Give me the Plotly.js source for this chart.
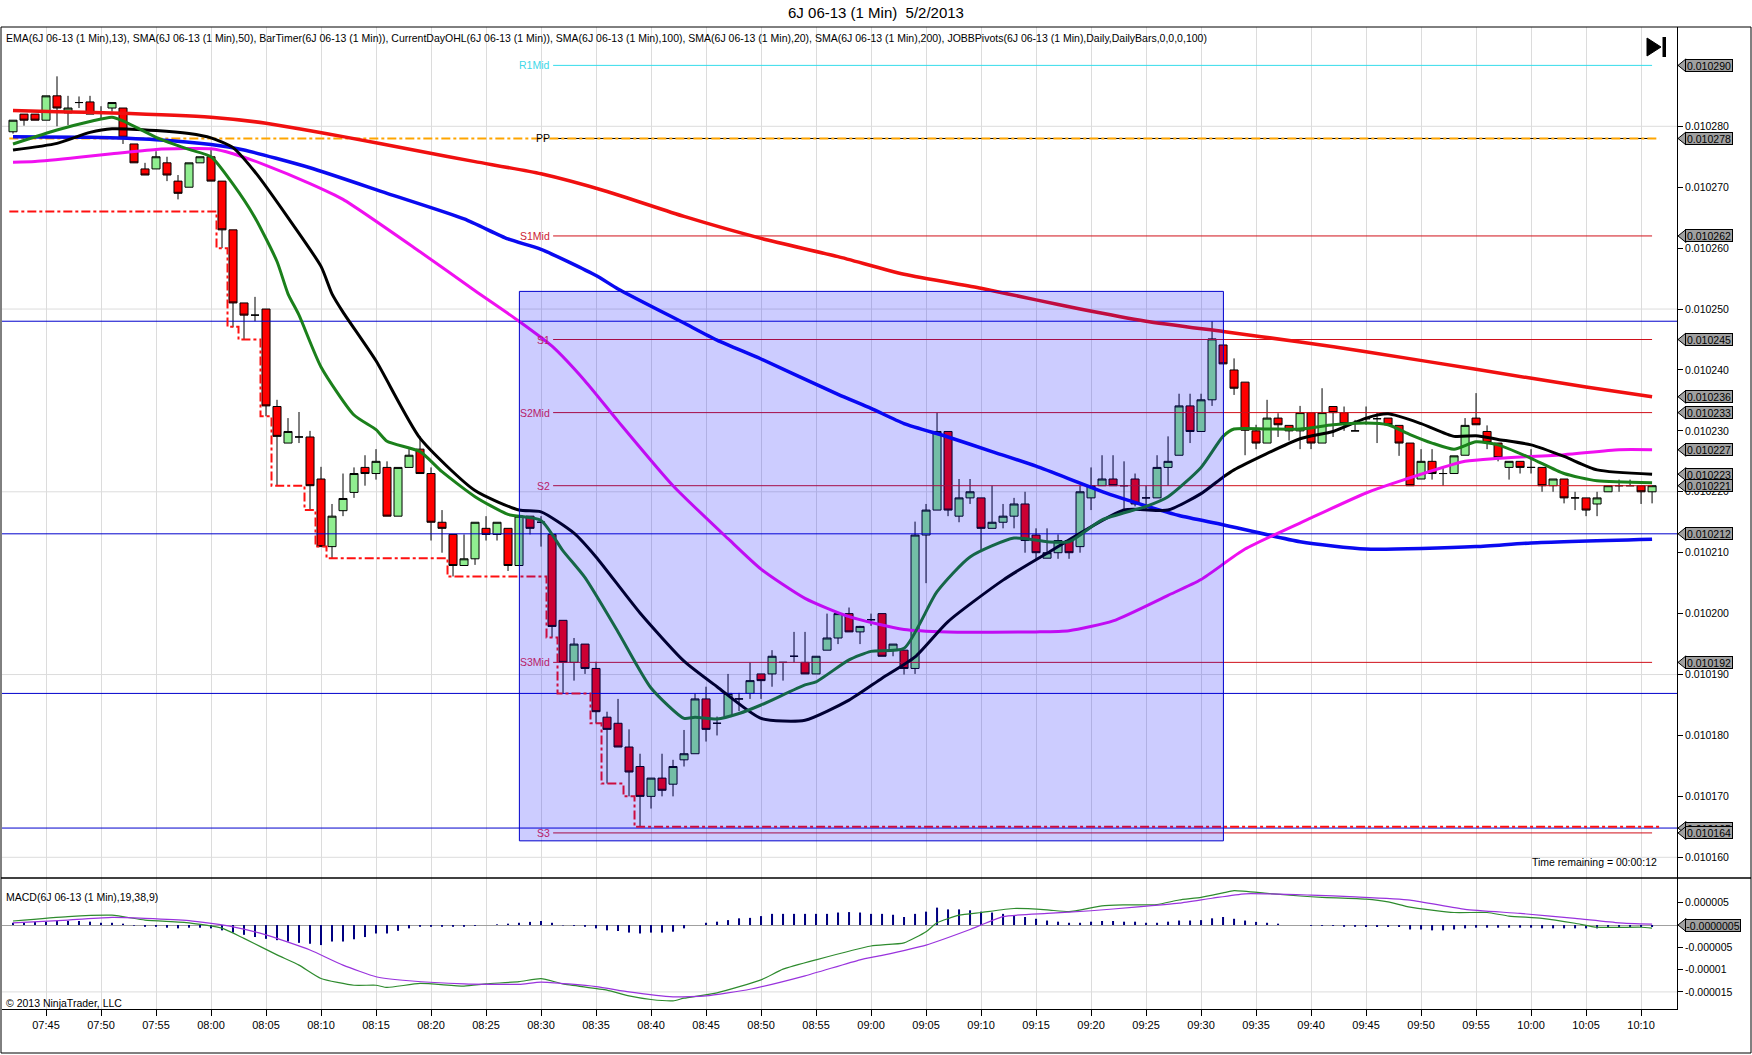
<!DOCTYPE html>
<html><head><meta charset="utf-8">
<script src="https://cdn.plot.ly/plotly-3.0.1.min.js"></script>
<style>html,body{margin:0;padding:0;background:#fff;}#chart{width:1752px;height:1055px;}</style>
</head><body><div id="chart"></div>
<script>
// ---------------- DATA ----------------
const DAY = '2013-05-02 ';
const firstBarTime = '07:42';
const barOpen = [0.0102791,0.010282,0.010282,0.010281,0.010285,0.0102822,0.0102839,0.010284,0.0102823,0.010283,
0.010283,0.0102771,0.010273,0.010273,0.010274,0.010271,0.010270,0.010274,0.010275,0.010271,
0.010263,0.010251,0.010249,0.010250,0.010234,0.010228,0.010229,0.010229,0.0102221,0.010211,
0.0102169,0.0102199,0.010224,0.010223,0.010224,0.010216,0.010224,0.010227,0.010223,0.010215,
0.010213,0.0102079,0.010209,0.010214,0.010213,0.010214,0.0102079,0.010216,0.010215,0.010213,
0.0101989,0.010192,0.010195,0.010191,0.010183,0.010182,0.0101781,0.0101749,0.010170,0.010173,
0.010172,0.010176,0.010177,0.010186,0.010182,0.0101831,0.010186,0.0101869,0.0101901,0.0101901,
0.010192,0.010193,0.010192,0.0101901,0.010194,0.010196,0.010200,0.010197,0.010199,0.010200,
0.010194,0.010194,0.010191,0.0102129,0.010217,0.0102299,0.010216,0.010219,0.010219,0.010214,
0.010215,0.010216,0.010218,0.0102129,0.0102091,0.010210,0.010212,0.010211,0.010219,0.010221,
0.0102221,0.010221,0.0102221,0.010219,0.010219,0.010224,0.010226,0.0102341,0.0102299,0.0102351,
0.0102441,0.010240,0.010238,0.010230,0.010228,0.0102321,0.0102309,0.010230,0.010233,0.010228,
0.010234,0.010233,0.010230,0.010232,0.010232,0.0102321,0.0102309,0.010228,0.0102221,0.010225,
0.010223,0.010223,0.010226,0.0102321,0.0102299,0.010228,0.010224,0.010225,0.010224,0.010224,
0.010221,0.0102221,0.010219,0.010219,0.010218,0.010220,0.010221,0.010221,0.010221,0.010220];
const barHigh = [0.010281,0.010282,0.010282,0.010285,0.0102882,0.010285,0.0102849,0.010285,0.0102833,0.0102839,
0.010283,0.0102771,0.010274,0.0102759,0.010275,0.010272,0.010274,0.010275,0.0102761,0.010271,
0.010263,0.010251,0.010252,0.010250,0.0102351,0.0102321,0.0102331,0.010230,0.0102241,0.010218,
0.010223,0.010224,0.010226,0.010227,0.010225,0.010224,0.010227,0.0102291,0.010224,0.010217,
0.010213,0.010213,0.010215,0.010216,0.010215,0.010214,0.010216,0.010216,0.010216,0.010213,
0.0101989,0.010196,0.010195,0.0101921,0.0101839,0.010186,0.010181,0.010177,0.010173,0.010177,
0.010176,0.0101809,0.0101869,0.010188,0.0101831,0.0101901,0.010187,0.010192,0.0101901,0.010194,
0.010192,0.010197,0.010197,0.010193,0.010200,0.010200,0.010201,0.010198,0.010200,0.010200,
0.010195,0.010194,0.0102151,0.010218,0.010233,0.0102299,0.0102221,0.0102221,0.010219,0.010221,
0.010218,0.010219,0.010220,0.010214,0.010214,0.010213,0.010212,0.010221,0.010224,0.010226,
0.010226,0.010225,0.010223,0.010221,0.010226,0.0102291,0.0102361,0.0102361,0.0102361,0.010248,
0.0102441,0.0102419,0.010238,0.010231,0.0102351,0.0102329,0.0102309,0.0102341,0.010233,0.010237,
0.010234,0.010234,0.0102318,0.010234,0.010233,0.0102321,0.0102309,0.010228,0.010227,0.010227,
0.0102241,0.0102259,0.0102321,0.0102362,0.0102309,0.010228,0.010225,0.010225,0.010227,0.010224,
0.0102221,0.0102221,0.010220,0.010219,0.010220,0.010221,0.010222,0.010222,0.010221,0.010221];
const barLow = [0.0102788,0.0102801,0.010281,0.010281,0.010280,0.0102802,0.010283,0.010282,0.0102812,0.0102824,
0.0102771,0.010274,0.010272,0.010273,0.010271,0.010268,0.010270,0.010274,0.010271,0.010260,
0.010247,0.010245,0.010248,0.0102324,0.010221,0.010228,0.010228,0.010217,0.010211,0.0102091,
0.010216,0.010219,0.010221,0.010222,0.010216,0.010216,0.010224,0.010223,0.010212,0.010210,
0.0102061,0.0102079,0.010208,0.010212,0.010212,0.010207,0.0102079,0.010213,0.010211,0.0101961,
0.0101869,0.010189,0.0101901,0.010182,0.0101721,0.0101781,0.010170,0.010165,0.010168,0.010170,
0.010170,0.0101749,0.010177,0.010179,0.010180,0.0101831,0.010184,0.010186,0.010186,0.010188,
0.010189,0.010192,0.0101901,0.0101901,0.010194,0.010195,0.010197,0.010195,0.010198,0.010193,
0.010193,0.010190,0.0101901,0.010205,0.010217,0.010216,0.010215,0.010218,0.0102102,0.010214,
0.010214,0.010214,0.010210,0.010209,0.0102091,0.010209,0.010209,0.010210,0.010217,0.010221,
0.010221,0.010217,0.0102176,0.010217,0.010219,0.010221,0.010226,0.010228,0.0102299,0.0102341,
0.010241,0.0102359,0.010226,0.010227,0.010228,0.010229,0.0102284,0.010227,0.010227,0.010228,
0.010229,0.010230,0.010230,0.010231,0.010228,0.010231,0.0102259,0.010221,0.0102221,0.010222,
0.010221,0.010223,0.010226,0.010231,0.010227,0.010225,0.010222,0.010223,0.010223,0.010220,
0.010220,0.0102181,0.010217,0.010216,0.010216,0.010220,0.010220,0.010221,0.010218,0.0102181];
const barClose = [0.010281,0.010281,0.010281,0.010285,0.010283,0.010283,0.0102839,0.010282,0.0102823,0.0102839,
0.0102782,0.010274,0.010272,0.010275,0.010272,0.010269,0.010274,0.010275,0.010271,0.010263,
0.010251,0.010249,0.010249,0.0102341,0.0102291,0.0102299,0.010229,0.010221,0.010211,0.010216,
0.0102189,0.010223,0.010223,0.010225,0.010216,0.010224,0.010226,0.010223,0.010215,0.010214,
0.0102079,0.010209,0.010215,0.010213,0.010215,0.0102079,0.010216,0.010214,0.010215,0.0101979,
0.010192,0.010195,0.010191,0.0101839,0.010181,0.0101781,0.010174,0.010170,0.010173,0.010171,
0.0101749,0.010177,0.010186,0.010181,0.010182,0.0101869,0.010186,0.010189,0.010189,0.010193,
0.010192,0.010193,0.0101901,0.010193,0.010196,0.010200,0.010197,0.0101979,0.010199,0.010193,
0.010195,0.010191,0.0102129,0.010217,0.0102299,0.010217,0.010219,0.010220,0.010214,0.010215,
0.010216,0.010218,0.010212,0.010210,0.010210,0.010212,0.010210,0.010220,0.010221,0.0102221,
0.010221,0.010221,0.010218,0.010219,0.010224,0.010225,0.0102341,0.0102299,0.0102351,0.0102451,
0.010241,0.010237,0.0102301,0.010228,0.0102321,0.010231,0.010230,0.010233,0.010228,0.010233,
0.010233,0.0102312,0.010230,0.010232,0.010232,0.010231,0.010228,0.010221,0.010225,0.010223,
0.010223,0.0102259,0.0102309,0.010231,0.0102281,0.0102256,0.010225,0.010224,0.010224,0.010221,
0.0102221,0.010219,0.010219,0.010217,0.010219,0.010221,0.010221,0.010221,0.010220,0.010221];

const sma200T = ['07:42','07:46','07:51','08:00','08:05','08:12','08:19','08:24','08:30','08:36','08:43','08:50','08:57','09:03','09:10','09:15','09:19','09:25','09:32','09:39','09:45','09:55','10:05','10:11'];
const sma200V = [0.0102826,0.0102824,0.0102822,0.0102815,0.0102805,0.0102783,0.0102759,0.0102742,0.0102722,0.0102693,0.0102652,0.0102616,0.0102586,0.0102557,0.0102534,0.0102515,0.01025,0.010248,0.0102463,0.0102446,0.010243,0.0102401,0.0102372,0.0102356];
const sma100T = ['07:42','07:49','07:55','08:00','08:03','08:09','08:16','08:23','08:27','08:30','08:35','08:37','08:43','08:46','08:50','08:57','09:00','09:03','09:07','09:11','09:15','09:22','09:28','09:32','09:39','09:45','09:55','10:00','10:11'];
const sma100V = [0.0102783,0.0102782,0.0102778,0.010277,0.0102761,0.0102732,0.010269,0.0102648,0.0102615,0.0102598,0.0102555,0.0102533,0.0102477,0.0102449,0.0102418,0.010236,0.0102337,0.0102312,0.010229,0.0102266,0.0102242,0.0102194,0.0102161,0.0102146,0.0102118,0.0102106,0.010211,0.0102116,0.0102122];
const sma50T = ['07:42','07:44','07:48','07:51','07:55','08:00','08:02','08:05','08:09','08:12','08:19','08:24','08:28','08:31','08:34','08:37','08:42','08:47','08:50','08:54','08:58','09:03','09:07','09:15','09:18','09:22','09:27','09:30','09:34','09:40','09:45','09:48','09:54','09:57','10:03','10:08','10:11'];
const sma50V = [0.0102741,0.0102742,0.0102749,0.0102755,0.0102762,0.0102763,0.0102755,0.0102736,0.0102706,0.010268,0.0102594,0.010253,0.010248,0.0102439,0.0102382,0.0102316,0.010221,0.0102123,0.0102073,0.0102025,0.0101995,0.0101974,0.010197,0.010197,0.0101972,0.0101988,0.010203,0.0102056,0.0102106,0.0102157,0.0102198,0.0102217,0.010225,0.0102255,0.0102261,0.0102269,0.0102269];
const sma20T = ['07:42','07:46','07:49','07:51','07:55','07:58','08:00','08:02','08:04','08:07','08:10','08:11','08:12','08:15','08:19','08:24','08:28','08:30','08:33','08:35','08:39','08:43','08:46','08:50','08:54','08:58','09:01','09:04','09:07','09:12','09:16','09:23','09:27','09:30','09:32','09:33','09:39','09:42','09:45','09:47','09:50','09:53','09:55','09:57','10:00','10:03','10:06','10:11'];
const sma20V = [0.0102761,0.0102772,0.010279,0.0102796,0.0102793,0.0102788,0.0102781,0.0102765,0.0102725,0.010265,0.010257,0.0102525,0.0102495,0.0102415,0.0102288,0.0102202,0.010217,0.0102167,0.0102132,0.0102093,0.0102001,0.0101922,0.010188,0.0101828,0.0101825,0.0101858,0.0101894,0.0101929,0.0101987,0.0102055,0.0102099,0.010217,0.010217,0.0102197,0.0102224,0.0102236,0.0102287,0.0102299,0.0102321,0.0102328,0.0102312,0.0102291,0.0102292,0.0102286,0.0102277,0.0102258,0.0102236,0.0102229];
const ema13T = ['07:42','07:46','07:49','07:51','07:52','07:55','07:58','08:00','08:02','08:04','08:06','08:07','08:08','08:10','08:13','08:15','08:16','08:19','08:21','08:24','08:27','08:30','08:32','08:34','08:37','08:40','08:43','08:44','08:46','08:48','08:50','08:54','08:55','08:58','09:00','09:03','09:06','09:09','09:13','09:16','09:18','09:21','09:25','09:27','09:30','09:32','09:33','09:36','09:39','09:42','09:45','09:47','09:49','09:51','09:53','09:55','09:57','10:00','10:03','10:06','10:11'];
const ema13V = [0.0102771,0.0102794,0.0102808,0.0102815,0.0102809,0.0102782,0.0102762,0.010275,0.0102705,0.010265,0.0102578,0.0102525,0.010249,0.0102405,0.0102326,0.0102302,0.0102283,0.0102266,0.0102233,0.0102192,0.0102163,0.0102153,0.0102103,0.0102059,0.010197,0.0101878,0.0101828,0.010183,0.0101827,0.0101836,0.010185,0.0101883,0.0101888,0.0101924,0.0101938,0.0101943,0.0102036,0.0102093,0.0102124,0.0102118,0.0102118,0.0102154,0.0102176,0.0102192,0.010224,0.0102291,0.0102303,0.0102303,0.0102303,0.010231,0.0102313,0.010231,0.0102294,0.010228,0.010227,0.0102282,0.0102277,0.0102255,0.010223,0.0102218,0.0102215];

// current day low (step) and open
const dayLowT = ['07:41:40','08:00:30','08:01:30','08:02:30','08:04:30','08:05:30','08:08:30','08:09:30','08:10:30','08:21:30','08:30:30','08:31:30','08:34:30','08:35:30','08:37:30','08:38:30','10:11:40'];
const dayLowV = [0.010266,0.010260,0.0102471,0.010245,0.0102324,0.010221,0.010217,0.010211,0.0102091,0.0102061,0.0101961,0.0101869,0.010182,0.0101721,0.01017,0.010165,0.010165];
const dayOpenT = ['07:41:40','10:11:40'];
const dayOpenV = 0.010278;

// pivots
const pivotNames  = ['R1Mid','PP','S1Mid','S1','S2Mid','S2','S3Mid','S3'];
const pivotValues = [0.010290,0.010278,0.010262,0.010245,0.010233,0.010221,0.010192,0.010164];
const pivotColors = ['#35DCEB','#000000','#D0101A','#D0101A','#D0101A','#D0101A','#D0101A','#D0101A'];
const pivotLabelColors = ['#40D8E8','#000000','#CC2233','#B8206A','#B8206A','#B8206A','#B8206A','#B8206A'];
const pivotStart = '08:31:06', pivotEnd = '10:11:00';

// manual horizontal lines and rectangle
const hLineValues = [0.010248,0.0102131,0.0101869,0.0101648];
const rectT = ['08:28:02','09:32:02'];
const rectV = [0.0101627,0.0102529];

// price markers on the axis
const markerLabels = ['0.010290','0.010278','0.010262','0.010245','0.010236','0.010233','0.010227','0.010223','0.010221','0.010212','0.010192','0.010165','0.010164'];
const markerValues = [0.010290,0.010278,0.010262,0.010245,0.0102356,0.010233,0.0102269,0.0102229,0.010221,0.0102131,0.010192,0.0101648,0.010164];

// MACD
const macdT = ['07:42','07:47','07:51','07:54','07:58','08:01','08:03','08:06','08:08','08:10','08:13','08:15','08:16','08:19','08:23','08:25','08:28','08:30','08:32','08:36','08:38','08:40','08:42','08:43','08:46','08:50','08:52','08:55','09:00','09:03','09:05','09:06','09:08','09:10','09:13','09:16','09:18','09:21','09:23','09:26','09:28','09:30','09:32','09:33','09:36','09:39','09:41','09:45','09:47','09:49','09:53','09:56','09:58','10:01','10:04','10:06','10:10','10:11'];
const macdV = [0.9e-6,1.9e-6,2.2e-6,1.1e-6,0.5e-6,-0.7e-6,-3e-6,-6.7e-6,-9e-6,-12e-6,-13.5e-6,-13.5e-6,-14e-6,-13.1e-6,-13.7e-6,-13.2e-6,-12.7e-6,-12e-6,-13.2e-6,-14.6e-6,-15.9e-6,-16.7e-6,-17e-6,-16.4e-6,-15.2e-6,-12.3e-6,-9.9e-6,-7.8e-6,-4.7e-6,-4e-6,-1.5e-6,0.5e-6,2.2e-6,2.8e-6,3.7e-6,3.4e-6,3e-6,4.3e-6,4.5e-6,4.6e-6,5.6e-6,6.2e-6,7.2e-6,7.7e-6,7.1e-6,6.5e-6,6.2e-6,5.8e-6,5.2e-6,4e-6,2.8e-6,2.8e-6,2e-6,1.5e-6,0.4e-6,-0.5e-6,-0.5e-6,-0.7e-6];
const signalT = ['07:42','07:47','07:51','07:54','07:58','08:02','08:05','08:09','08:12','08:15','08:18','08:23','08:28','08:30','08:35','08:38','08:42','08:45','08:49','08:54','08:59','09:01','09:05','09:09','09:12','09:16','09:20','09:24','09:28','09:31','09:34','09:40','09:44','09:49','09:54','09:59','10:04','10:08','10:11'];
const signalV = [0.5e-6,1.1e-6,1.7e-6,1.5e-6,1.0e-6,-0.4e-6,-2.2e-6,-5.6e-6,-9e-6,-11.6e-6,-12.5e-6,-13.2e-6,-13.3e-6,-12.8e-6,-13.8e-6,-15e-6,-16.1e-6,-15.9e-6,-14.4e-6,-11.4e-6,-7.8e-6,-6.8e-6,-4.5e-6,-1e-6,1.9e-6,2.6e-6,3.2e-6,4e-6,4.9e-6,6e-6,7e-6,6.7e-6,6.3e-6,5.6e-6,3.5e-6,2.6e-6,1.5e-6,0.5e-6,0.2e-6];
const histV = [0.5e-6,0.5e-6,0.7e-6,0.75e-6,0.9e-6,0.9e-6,0.9e-6,0.75e-6,0.5e-6,0.5e-6,
0.3e-6,-0.15e-6,-0.4e-6,-0.4e-6,-0.6e-6,-0.75e-6,-0.6e-6,-0.6e-6,-0.75e-6,-1.2e-6,
-1.7e-6,-2.2e-6,-2.7e-6,-3.1e-6,-3.4e-6,-3.7e-6,-4e-6,-4.2e-6,-4.5e-6,-3.7e-6,
-3.7e-6,-3.2e-6,-2.7e-6,-1.9e-6,-1.9e-6,-1.3e-6,-0.75e-6,-0.4e-6,-0.4e-6,-0.4e-6,
-0.4e-6,-0.4e-6,-0.2e-6,0,0.15e-6,0.3e-6,0.5e-6,0.7e-6,0.9e-6,0.5e-6,
-0.1e-6,-0.2e-6,-0.4e-6,-0.75e-6,-1.2e-6,-1.35e-6,-1.7e-6,-1.9e-6,-1.7e-6,-1.7e-6,
-1.5e-6,-0.75e-6,0,0.5e-6,0.75e-6,1.1e-6,1.5e-6,1.6e-6,2e-6,2.5e-6,
2.5e-6,2.5e-6,2.5e-6,2.5e-6,2.5e-6,2.8e-6,2.9e-6,2.8e-6,2.5e-6,2.5e-6,
2.3e-6,1.8e-6,2.5e-6,3e-6,3.9e-6,3.5e-6,3.5e-6,3.3e-6,3e-6,2.8e-6,
2.5e-6,2.2e-6,1.8e-6,1.4e-6,1e-6,0.75e-6,0.5e-6,0.5e-6,0.75e-6,0.9e-6,
0.9e-6,0.75e-6,0.75e-6,0.5e-6,0.5e-6,0.75e-6,1e-6,1e-6,1.1e-6,1.5e-6,
1.8e-6,1.4e-6,1e-6,0.7e-6,0.5e-6,0.3e-6,0,0,-0.2e-6,-0.2e-6,
-0.2e-6,-0.4e-6,-0.4e-6,-0.45e-6,-0.45e-6,-0.45e-6,-0.45e-6,-1e-6,-1e-6,-1.2e-6,
-1.2e-6,-1e-6,-0.75e-6,-0.6e-6,-0.6e-6,-0.6e-6,-0.6e-6,-0.6e-6,-0.6e-6,-0.75e-6,
-0.75e-6,-0.75e-6,-0.75e-6,-0.75e-6,-0.75e-6,-0.45e-6,-0.45e-6,-0.45e-6,-0.45e-6,-0.45e-6];
const macdMarkerLabel = '-0.0000005', macdMarkerValue = 0;
const macdTickVals = [5e-6,-5e-6,-1e-5,-1.5e-5];
const macdTickText = ['0.000005','-0.000005','-0.00001','-0.000015'];
const priceGridLevels = [0.010160,0.010190,0.010220,0.010250,0.010280];

// ---------------- HELPERS ----------------
const d = s => DAY + (s.length === 5 ? s + ':00' : s);
const mapT = arr => arr.map(d);
const barTimes = barOpen.map((_, i) => {
  const [h, m] = firstBarTime.split(':').map(Number);
  const tot = h * 60 + m + i;
  return DAY + String(Math.floor(tot / 60)).padStart(2, '0') + ':' + String(tot % 60).padStart(2, '0') + ':00';
});
const W = 1752, H = 1055, ML = 2, MR = 75, MT = 27, MB = 46;
const PW = W - ML - MR, PH = H - MT - MB;
const px = X => (X - ML) / PW;
const py = Y => (H - MB - Y) / PH;
const X_RANGE = [d('07:41:00'), d('10:13:16')];

const FONT = 'Liberation Sans, Arial, sans-serif';
const traces = [];

hLineValues.forEach(v => traces.push({type:'scatter', mode:'lines', x:X_RANGE, y:[v, v], line:{color:'#0000CC', width:1}, hoverinfo:'skip'}));
pivotValues.forEach((v, i) => traces.push({type:'scatter', mode:'lines', x:[d(pivotStart), d(pivotEnd)], y:[v, v], line:{color:pivotColors[i], width:1}, hoverinfo:'skip'}));
traces.push({type:'scatter', mode:'lines', x:mapT(dayOpenT), y:[dayOpenV, dayOpenV], line:{color:'#FFA500', width:2, dash:'dashdot'}, hoverinfo:'skip'});
traces.push({type:'scatter', mode:'lines', x:mapT(dayLowT), y:dayLowV, line:{color:'#FF1010', width:2, dash:'dashdot', shape:'hv'}, hoverinfo:'skip'});
traces.push({type:'candlestick', x:barTimes, open:barOpen, high:barHigh, low:barLow, close:barClose,
  increasing:{line:{color:'#000', width:1}, fillcolor:'#90EE90'},
  decreasing:{line:{color:'#000', width:1}, fillcolor:'#FF0000'},
  whiskerwidth:0, hoverinfo:'skip'});
const ma = (t, v, c, w) => traces.push({type:'scatter', mode:'lines', x:mapT(t), y:v, line:{color:c, width:w, shape:'spline', smoothing:0.6}, hoverinfo:'skip'});
ma(sma100T, sma100V, '#0A0AF0', 3.5);
ma(sma200T, sma200V, '#F01010', 3.5);
ma(sma50T, sma50V, '#F010F0', 3);
ma(sma20T, sma20V, '#000000', 3);
ma(ema13T, ema13V, '#1B801B', 3);
traces.push({type:'bar', x:barTimes, y:histV, xaxis:'x', yaxis:'y2', width:11000, marker:{color:'#000080', line:{width:0}}, hoverinfo:'skip'});
traces.push({type:'scatter', mode:'lines', x:mapT(macdT), y:macdV, xaxis:'x', yaxis:'y2', line:{color:'#2E8B2E', width:1.2, shape:'spline', smoothing:0.5}, hoverinfo:'skip'});
traces.push({type:'scatter', mode:'lines', x:mapT(signalT), y:signalV, xaxis:'x', yaxis:'y2', line:{color:'#9933DD', width:1.2, shape:'spline', smoothing:0.5}, hoverinfo:'skip'});

// ---------------- SHAPES ----------------
const shapes = [];
priceGridLevels.forEach(v => shapes.push({type:'line', xref:'paper', yref:'y', x0:0, x1:1, y0:v, y1:v, line:{color:'#DCDCDC', width:1}, layer:'below'}));
shapes.push({type:'line', xref:'paper', yref:'y2', x0:0, x1:1, y0:-1.5e-5, y1:-1.5e-5, line:{color:'#DCDCDC', width:1}, layer:'below'});
shapes.push({type:'rect', xref:'x', yref:'y', x0:d(rectT[0]), x1:d(rectT[1]), y0:rectV[0], y1:rectV[1], fillcolor:'rgba(0,0,255,0.2)', line:{color:'#0000CC', width:1}, layer:'above'});
shapes.push({type:'rect', xref:'paper', yref:'paper', x0:px(1), x1:px(1751), y0:py(27), y1:py(1053), line:{color:'#000', width:1}, fillcolor:'rgba(0,0,0,0)', layer:'above'});
shapes.push({type:'line', xref:'paper', yref:'paper', x0:px(1), x1:px(1751), y0:py(878), y1:py(878), line:{color:'#000', width:1.5}, layer:'above'});
shapes.push({type:'path', xref:'paper', yref:'paper', path:`M${px(1647)},${py(38)} L${px(1661)},${py(47)} L${px(1647)},${py(56)} Z`, fillcolor:'#000', line:{color:'#000', width:1}, layer:'above'});
shapes.push({type:'rect', xref:'paper', yref:'paper', x0:px(1662.5), x1:px(1666), y0:py(37), y1:py(57), fillcolor:'#000', line:{width:0}, layer:'above'});

// ---------------- ANNOTATIONS ----------------
const annotations = [];
annotations.push({xref:'paper', yref:'paper', x:px(4), y:py(38), xanchor:'left', yanchor:'middle', showarrow:false,
  text:'EMA(6J 06-13 (1 Min),13), SMA(6J 06-13 (1 Min),50), BarTimer(6J 06-13 (1 Min)), CurrentDayOHL(6J 06-13 (1 Min)), SMA(6J 06-13 (1 Min),100), SMA(6J 06-13 (1 Min),20), SMA(6J 06-13 (1 Min),200), JOBBPivots(6J 06-13 (1 Min),Daily,DailyBars,0,0,0,100)',
  font:{size:10.5, color:'#000'}});
pivotNames.forEach((n, i) => annotations.push({xref:'x', yref:'y', x:d(pivotStart), y:pivotValues[i], xanchor:'right', yanchor:'middle', xshift:-1, showarrow:false, text:n, font:{size:10.5, color:pivotLabelColors[i]}}));
annotations.push({xref:'paper', yref:'paper', x:px(1659), y:py(862), xanchor:'right', yanchor:'middle', showarrow:false, text:'Time remaining = 00:00:12', font:{size:10.5, color:'#000'}});
annotations.push({xref:'paper', yref:'paper', x:px(4), y:py(897), xanchor:'left', yanchor:'middle', showarrow:false, text:'MACD(6J 06-13 (1 Min),19,38,9)', font:{size:10.5, color:'#000'}});
annotations.push({xref:'paper', yref:'paper', x:px(4), y:py(1003), xanchor:'left', yanchor:'middle', showarrow:false, text:'© 2013 NinjaTrader, LLC', font:{size:10.5, color:'#000'}});
function addMarker(label, value, yref, w) {
  shapes.push({type:'path', xref:'paper', xsizemode:'pixel', xanchor:1, yref:yref, ysizemode:'pixel', yanchor:value,
    path:'M1,0 L9,6.5 L9,-6.5 Z', fillcolor:'#A0A0A0', line:{color:'#000', width:1}, layer:'above'});
  annotations.push({xref:'paper', yref:yref, x:1, y:value, xanchor:'left', yanchor:'middle', xshift:8, showarrow:false,
    text:label, bgcolor:'#A0A0A0', bordercolor:'#000', borderwidth:1, borderpad:0, width:w, height:11, font:{size:10.5, color:'#000'}});
}
markerLabels.forEach((l, i) => addMarker(l, markerValues[i], 'y', 46));
addMarker(macdMarkerLabel, macdMarkerValue, 'y2', 54);

// ---------------- LAYOUT ----------------
const mainBottom = (H - MB - 878) / PH;
const layout = {
  width: W, height: H,
  margin: {l: ML, r: MR, t: MT, b: MB, pad: 0},
  paper_bgcolor: '#fff', plot_bgcolor: '#fff',
  font: {family: FONT, size: 10.5, color: '#000'},
  showlegend: false,
  boxgap: 0.27, boxgroupgap: 0,
  title: {text: '6J 06-13 (1 Min)&nbsp; 5/2/2013', x: 0.5, xanchor: 'center', y: 1 - 13 / H, yanchor: 'middle', font: {size: 15, color: '#000'}},
  xaxis: {type: 'date', range: X_RANGE, anchor: 'y2', tickformat: '%H:%M', dtick: 300000, tick0: d('07:45'),
    ticks: 'outside', ticklen: 6, tickcolor: '#000', showgrid: true, gridcolor: '#DCDCDC', gridwidth: 1,
    showline: true, linecolor: '#000', linewidth: 1, zeroline: false, tickfont: {size: 11},
    rangeslider: {visible: false}, fixedrange: true},
  yaxis: {domain: [mainBottom, 1], anchor: 'x', side: 'right', range: [0.0101566, 0.0102963],
    tick0: 0.01, dtick: 0.00001, tickformat: '.6f', ticks: 'outside', ticklen: 5, tickcolor: '#000',
    showgrid: false, showline: true, linecolor: '#000', linewidth: 1, zeroline: false, tickfont: {size: 10.5}, fixedrange: true},
  yaxis2: {domain: [0, mainBottom], anchor: 'x', side: 'right', range: [-1.883e-5, 1.054e-5],
    tickvals: macdTickVals, ticktext: macdTickText, ticks: 'outside', ticklen: 5, tickcolor: '#000',
    showgrid: false, showline: true, linecolor: '#000', linewidth: 1, zeroline: true, zerolinecolor: '#A0A0A0', zerolinewidth: 1,
    tickfont: {size: 10.5}, fixedrange: true},
  shapes: shapes,
  annotations: annotations
};
Plotly.newPlot('chart', traces, layout, {displayModeBar: false, staticPlot: true});
</script></body></html>
